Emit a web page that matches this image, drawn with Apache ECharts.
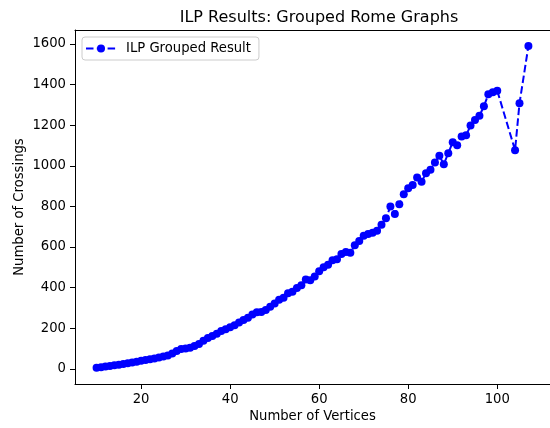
<!DOCTYPE html>
<html>
<head>
<meta charset="utf-8">
<script src="https://cdn.jsdelivr.net/npm/echarts@6/dist/echarts.min.js"></script>
<style>html,body{margin:0;padding:0;background:#fff}#c{width:550px;height:428px}</style>
</head>
<body>
<div id="c"></div>
<script>
const titleText = "ILP Results: Grouped Rome Graphs";
const seriesName = "ILP Grouped Result";
const xAxisName = "Number of Vertices";
const yAxisName = "Number of Crossings";
const xTicks = [20, 40, 60, 80, 100];
const yTicks = [0, 200, 400, 600, 800, 1000, 1200, 1400, 1600];
const vertices = [10,11,12,13,14,15,16,17,18,19,20,21,22,23,24,25,26,27,28,29,30,31,32,33,34,35,36,37,38,39,40,41,42,43,44,45,46,47,48,49,50,51,52,53,54,55,56,57,58,59,60,61,62,63,64,65,66,67,68,69,70,71,72,73,74,75,76,77,78,79,80,81,82,83,84,85,86,87,88,89,90,91,92,93,94,95,96,97,98,99,100,104,105,107];
const crossings = [5,8,11,14,17,20,24,27,31,35,39,43,47,51,55,60,66,75,88,97,100,104,112,122,138,152,162,172,186,195,204,215,228,240,252,268,278,280,290,305,322,340,350,372,380,398,412,440,436,455,480,500,512,535,540,565,575,572,608,630,655,664,670,680,709,742,799,763,811,860,889,906,942,922,963,980,1016,1049,1008,1062,1116,1101,1144,1150,1198,1226,1247,1293,1352,1362,1370,1077,1308,1590];

const data = vertices.map((v, i) => [v, crossings[i]]);
const font = 'DejaVu Sans';
const fs = 13.2;
const chart = echarts.init(document.getElementById('c'), null, {renderer: 'canvas'});
chart.setOption({
  animation: false,
  backgroundColor: '#fff',
  title: {
    text: titleText, left: 314, top: 5, textAlign: 'center',
    textStyle: {fontFamily: font, fontSize: 16, fontWeight: 'normal', color: '#000'}
  },
  legend: {
    left: 82, top: 37, orient: 'vertical',
    data: [seriesName],
    itemWidth: 30, itemHeight: 10, itemGap: 8,
    padding: [5, 8, 5, 3],
    borderColor: '#cccccc', borderWidth: 1, borderRadius: 3,
    backgroundColor: 'rgba(255,255,255,0.8)',
    textStyle: {fontFamily: font, fontSize: fs, color: '#000', padding: [0, 0, 0, 5]}
  },
  grid: {left: 75, right: -3, top: 30, bottom: 44, show: false, containLabel: false},
  xAxis: [{
    type: 'value', min: 5.15, max: 111.85,
    name: xAxisName, nameLocation: 'middle', nameGap: 26, nameMoveOverlap: false,
    nameTextStyle: {fontFamily: font, fontSize: fs, color: '#000'},
    axisLine: {show: true, onZero: false, lineStyle: {color: '#000', width: 1}},
    axisTick: {show: true, length: 5, customValues: xTicks, lineStyle: {color: '#000'}},
    axisLabel: {customValues: xTicks, margin: 9, fontFamily: font, fontSize: fs, color: '#000'},
    splitLine: {show: false}
  }, {
    type: 'value', min: 5.15, max: 111.85, position: 'top',
    axisLine: {show: true, onZero: false, lineStyle: {color: '#000', width: 1}},
    axisTick: {show: false}, axisLabel: {show: false}, splitLine: {show: false}
  }],
  yAxis: {
    type: 'value', min: -75, max: 1669,
    name: yAxisName, nameLocation: 'middle', nameGap: 49, nameMoveOverlap: false,
    nameTextStyle: {fontFamily: font, fontSize: fs, color: '#000'},
    axisLine: {show: true, onZero: false, lineStyle: {color: '#000', width: 1}},
    axisTick: {show: true, length: 5, customValues: yTicks, lineStyle: {color: '#000'}},
    axisLabel: {customValues: yTicks, margin: 9, fontFamily: font, fontSize: fs, color: '#000', formatter: v => String(v)},
    splitLine: {show: false}
  },
  series: [{
    name: seriesName, type: 'line', data: data, xAxisIndex: 0,
    symbol: 'circle', symbolSize: 8, showSymbol: true,
    itemStyle: {color: '#0000ff'},
    lineStyle: {color: '#0000ff', width: 2, type: [7.5, 3.3]}
  }]
});
</script>
</body>
</html>
